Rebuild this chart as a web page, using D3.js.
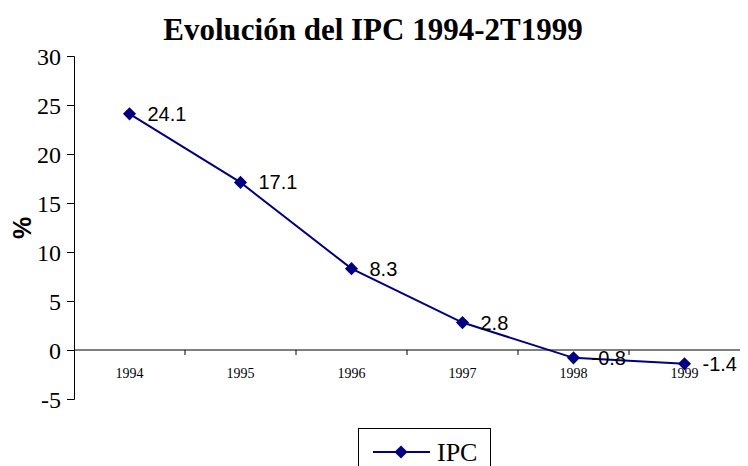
<!doctype html>
<html lang="es">
<head>
  <meta charset="utf-8">
  <title>Evolución del IPC 1994-2T1999</title>
  <script src="https://d3js.org/d3.v7.min.js"></script>
  <style>
    body { margin: 0; background: #fff; }
  </style>
</head>
<body>
  <svg width="748" height="466"></svg>
  <script>
    // data
    var years = ["1994", "1995", "1996", "1997", "1998", "1999"];
    var ipc = [24.1, 17.1, 8.3, 2.8, -0.8, -1.4];
    var yTicks = [-5, 0, 5, 10, 15, 20, 25, 30];

    var svg = d3.select("svg");
    var navy = "#000080";
    var serif = "'Liberation Serif', 'Times New Roman', serif";
    var sans = "'Liberation Sans', Arial, sans-serif";

    var x = d3.scaleBand().domain(years).range([74, 740]);
    var y = d3.scaleLinear().domain([-5, 30]).range([399, 56]);

    // title
    svg.append("text")
      .attr("x", 373).attr("y", 40)
      .attr("text-anchor", "middle")
      .style("font-family", serif)
      .style("font-weight", "bold")
      .style("font-size", "31px")
      .text("Evolución del IPC 1994-2T1999");

    // y axis
    var yAxis = svg.append("g")
      .attr("transform", "translate(74,0)")
      .call(d3.axisLeft(y).tickValues(yTicks).tickSize(7).tickPadding(6)
        .tickFormat(d => String(d)));
    yAxis.select(".domain").attr("stroke", "#000");
    yAxis.selectAll("text")
      .style("font-family", serif)
      .style("font-size", "24px")
      .attr("dy", "0.34em")
      .attr("fill", "#000");

    // x axis at zero
    var xAxis = svg.append("g")
      .attr("transform", "translate(0," + y(0) + ")");
    xAxis.append("line")
      .attr("x1", 74).attr("x2", 740)
      .attr("stroke", "#000");
    xAxis.selectAll("line.tk")
      .data(years.slice(1))
      .enter().append("line")
      .attr("class", "tk")
      .attr("x1", d => x(d)).attr("x2", d => x(d))
      .attr("y1", 0).attr("y2", 5)
      .attr("stroke", "#000");
    xAxis.selectAll("text")
      .data(years)
      .enter().append("text")
      .attr("x", d => x(d) + x.bandwidth() / 2)
      .attr("y", 28)
      .attr("text-anchor", "middle")
      .style("font-family", serif)
      .style("font-size", "14px")
      .text(d => d);

    // y label
    svg.append("text")
      .attr("transform", "translate(31,228) rotate(-90)")
      .attr("text-anchor", "middle")
      .style("font-family", sans)
      .style("font-weight", "bold")
      .style("font-size", "25px")
      .text("%");

    var pts = years.map((d, i) => ({ year: d, v: ipc[i] }));

    var line = d3.line()
      .x(d => x(d.year) + x.bandwidth() / 2)
      .y(d => y(d.v));

    svg.append("path")
      .datum(pts)
      .attr("d", line)
      .attr("fill", "none")
      .attr("stroke", navy)
      .attr("stroke-width", 2);

    var diamond = d3.symbol().type(d3.symbolDiamond2).size(110);

    svg.selectAll("path.pt")
      .data(pts)
      .enter().append("path")
      .attr("class", "pt")
      .attr("d", diamond)
      .attr("transform", d => "translate(" + (x(d.year) + x.bandwidth() / 2) + "," + y(d.v) + ")")
      .attr("fill", navy);

    svg.selectAll("text.lbl")
      .data(pts)
      .enter().append("text")
      .attr("class", "lbl")
      .attr("x", d => x(d.year) + x.bandwidth() / 2 + 18)
      .attr("y", d => y(d.v) + 7)
      .style("font-family", sans)
      .style("font-size", "20px")
      .text(d => d.v.toFixed(1));

    // legend
    var leg = svg.append("g");
    leg.append("rect")
      .attr("x", 358.5).attr("y", 428.5)
      .attr("width", 132).attr("height", 44)
      .attr("fill", "#fff").attr("stroke", "#000");
    leg.append("line")
      .attr("x1", 373).attr("x2", 430)
      .attr("y1", 452).attr("y2", 452)
      .attr("stroke", navy).attr("stroke-width", 2);
    leg.append("path")
      .attr("d", diamond)
      .attr("transform", "translate(401,452)")
      .attr("fill", navy);
    leg.append("text")
      .attr("x", 437).attr("y", 461)
      .style("font-family", serif)
      .style("font-size", "26px")
      .text("IPC");
  </script>
</body>
</html>
